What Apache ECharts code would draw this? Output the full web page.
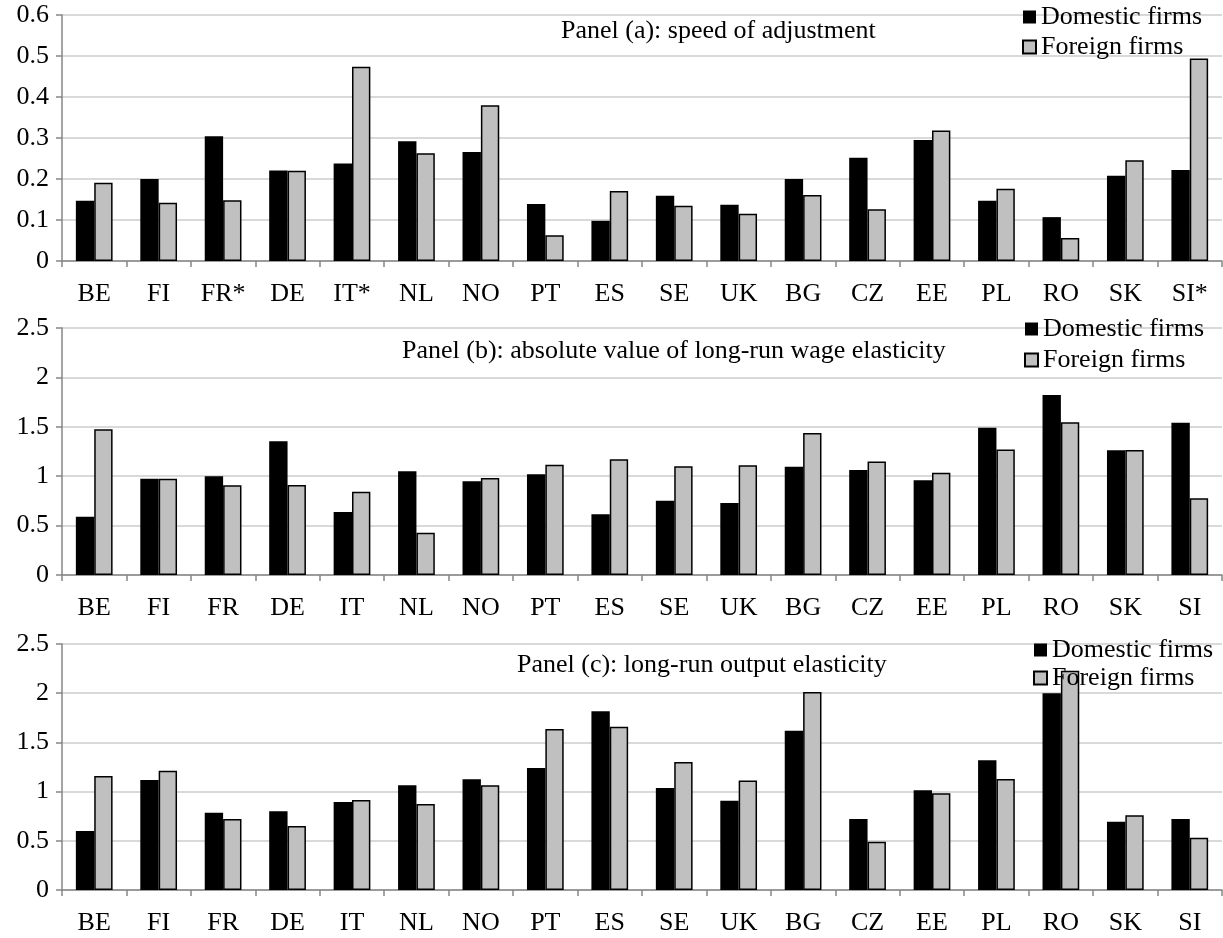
<!DOCTYPE html>
<html>
<head>
<meta charset="utf-8">
<script src="https://cdn.jsdelivr.net/npm/echarts@6/dist/echarts.min.js"></script>
<style>
html,body{margin:0;padding:0;background:#fff;}
#main{width:1223px;height:938px;}
</style>
</head>
<body>
<div id="main"></div>
<script>
// ---- Data ----
const catsA = ['BE','FI','FR*','DE','IT*','NL','NO','PT','ES','SE','UK','BG','CZ','EE','PL','RO','SK','SI*'];
const catsBC = ['BE','FI','FR','DE','IT','NL','NO','PT','ES','SE','UK','BG','CZ','EE','PL','RO','SK','SI'];

const speedDomestic = [0.147,0.200,0.304,0.221,0.238,0.292,0.266,0.139,0.098,0.159,0.137,0.200,0.252,0.295,0.147,0.107,0.208,0.222];
const speedForeign  = [0.191,0.142,0.148,0.220,0.474,0.263,0.380,0.063,0.171,0.135,0.115,0.161,0.126,0.318,0.176,0.056,0.246,0.494];

const wageDomestic = [0.59,0.975,1.00,1.353,0.638,1.049,0.948,1.019,0.614,0.752,0.729,1.096,1.063,0.958,1.491,1.822,1.262,1.542];
const wageForeign  = [1.474,0.975,0.908,0.911,0.843,0.428,0.982,1.117,1.171,1.10,1.11,1.437,1.15,1.036,1.269,1.545,1.265,0.776];

const outDomestic = [0.60,1.118,0.786,0.80,0.894,1.064,1.125,1.24,1.816,1.037,0.908,1.619,0.722,1.013,1.318,1.999,0.694,0.722];
const outForeign  = [1.159,1.213,0.722,0.65,0.915,0.874,1.064,1.636,1.66,1.301,1.114,2.012,0.491,0.982,1.128,2.229,0.759,0.532];

const seriesNames = ['Domestic firms','Foreign firms'];
const panelTitles = ['Panel (a): speed of adjustment',
                     'Panel (b): absolute value of long-run wage elasticity',
                     'Panel (c): long-run output elasticity'];

// ---- Styles ----
const FONT = 'Liberation Serif';
const FS = 26;
const AX = '#868686';
const GRID = '#d9d9d9';
const GRAY = '#c0c0c0';

const grids = [
  {left:62, right:1, top:15, height:246},
  {left:62, right:1, top:328, height:247},
  {left:62, right:1, top:644, height:246}
];
const yCfg = [
  {min:0, max:0.6, interval:0.1},
  {min:0, max:2.5, interval:0.5},
  {min:0, max:2.5, interval:0.5}
];
const catsFor = [catsA, catsBC, catsBC];
const dataFor = [[speedDomestic, speedForeign],[wageDomestic, wageForeign],[outDomestic, outForeign]];

const xAxes = [], yAxes = [], series = [], titles = [], legends = [];
for (let i = 0; i < 3; i++) {
  xAxes.push({
    type:'category', gridIndex:i, data:catsFor[i], boundaryGap:true,
    axisLine:{show:true, lineStyle:{color:AX, width:1.5}},
    axisTick:{show:true, length:6, alignWithLabel:false, lineStyle:{color:AX, width:1.5}},
    axisLabel:{color:'#000', fontFamily:FONT, fontSize:FS, margin:20, interval:0},
    splitLine:{show:false}
  });
  yAxes.push({
    type:'value', gridIndex:i, min:yCfg[i].min, max:yCfg[i].max, interval:yCfg[i].interval,
    axisLine:{show:true, lineStyle:{color:AX, width:1.5}},
    axisTick:{show:true, length:6, lineStyle:{color:AX, width:1.5}},
    axisLabel:{color:'#000', fontFamily:FONT, fontSize:FS, margin:13,
      formatter: v => String(+v.toFixed(2))},
    splitLine:{show:true, lineStyle:{color:GRID, width:2}}
  });
  series.push({
    name:seriesNames[0], type:'bar', xAxisIndex:i, yAxisIndex:i, data:dataFor[i][0],
    barGap:'0%', barCategoryGap:'43%',
    itemStyle:{color:'#000', borderColor:'#000', borderWidth:0}
  });
  series.push({
    name:seriesNames[1], type:'bar', xAxisIndex:i, yAxisIndex:i, data:dataFor[i][1],
    barGap:'0%', barCategoryGap:'43%',
    itemStyle:{color:GRAY, borderColor:'#000', borderWidth:1.5}
  });
}
const tStyle = {fontFamily:FONT, fontSize:FS, fontWeight:'normal', color:'#000', lineHeight:FS};
titles.push({text:panelTitles[0], left:561, top:18, textStyle:tStyle, padding:0});
titles.push({text:panelTitles[1], left:402, top:338, textStyle:tStyle, padding:0});
titles.push({text:panelTitles[2], left:517, top:652, textStyle:tStyle, padding:0});

const legPos = [{left:1022, top:4, gap:4},{left:1024, top:316, gap:5},{left:1033, top:637, gap:2}];
for (let i = 0; i < 3; i++) {
  legends.push({
    data:seriesNames, orient:'vertical', left:legPos[i].left, top:legPos[i].top,
    itemGap:legPos[i].gap, itemWidth:13, itemHeight:13, icon:'rect', padding:0,
    selectedMode:false,
    textStyle:{fontFamily:FONT, fontSize:FS, color:'#000', lineHeight:FS}
  });
}

const chart = echarts.init(document.getElementById('main'), null, {renderer:'canvas'});
chart.setOption({
  animation:false,
  backgroundColor:'#fff',
  title:titles,
  legend:legends,
  grid:grids,
  xAxis:xAxes,
  yAxis:yAxes,
  series:series
});
</script>
</body>
</html>
